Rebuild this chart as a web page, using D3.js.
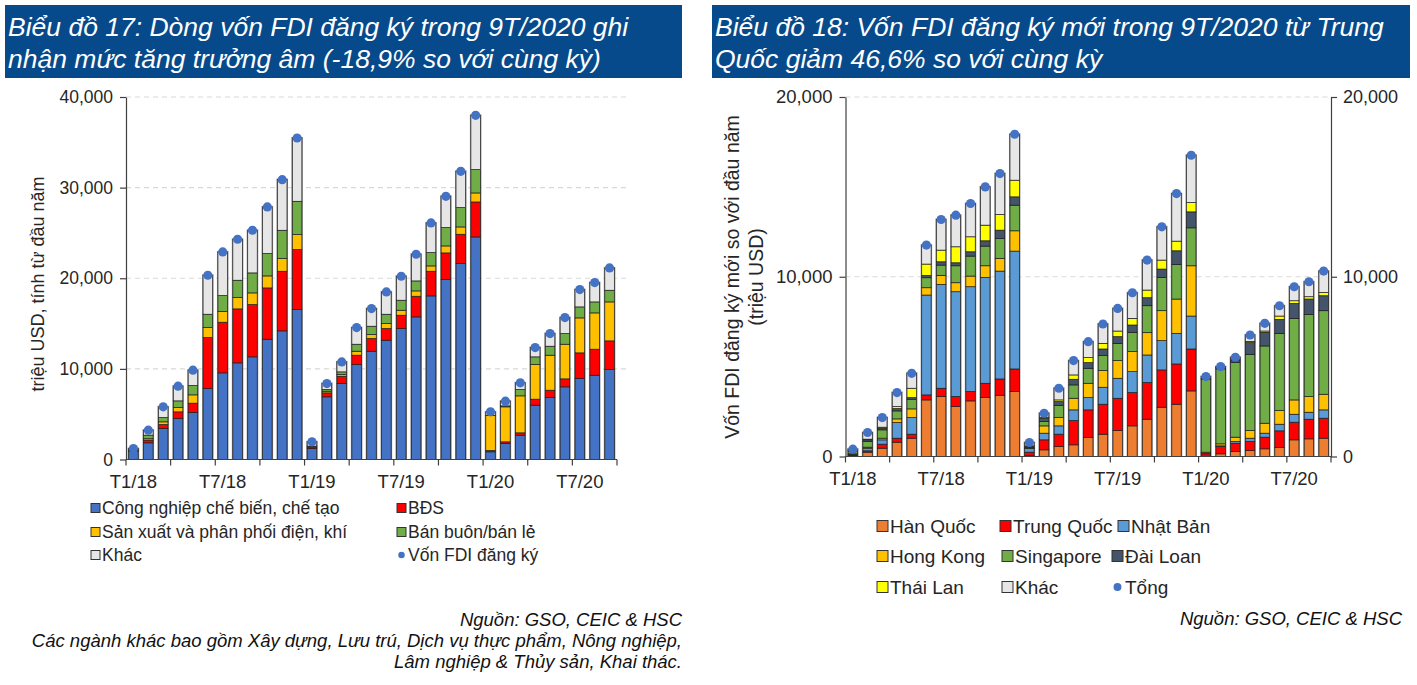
<!DOCTYPE html>
<html><head><meta charset="utf-8">
<script src="https://cdn.jsdelivr.net/npm/d3@7"></script>
<style>
body{margin:0;background:#fff;}
svg{display:block;font-family:"Liberation Sans",Arial,sans-serif;}
</style></head><body>
<svg id="c" width="1417" height="685"></svg>
<script>
// ---------- DATA ----------
const months = ["T1/18","T2/18","T3/18","T4/18","T5/18","T6/18","T7/18","T8/18","T9/18","T10/18","T11/18","T12/18",
  "T1/19","T2/19","T3/19","T4/19","T5/19","T6/19","T7/19","T8/19","T9/19","T10/19","T11/19","T12/19",
  "T1/20","T2/20","T3/20","T4/20","T5/20","T6/20","T7/20","T8/20","T9/20"];
const tickLabels = ["T1/18","T7/18","T1/19","T7/19","T1/20","T7/20"];
const leftYTicks = [0,10000,20000,30000,40000];
const rightYTicks = [0,10000,20000];

// Chart 17 (by sector)
const leftCN = [950,1840,3419,4522,5184,7831,9559,10662,11324,13272,14191,16544, 1213,6912,8382,10478,11949,13162,14449,15735,18051,19853,21618,24559, 846,1765,2684,5993,6838,8015,8934,9301,9926];
const leftBDS = [50,300,441,735,1029,5625,5588,5956,5772,5662,6581,6618, 100,441,809,1029,1397,1287,1471,2279,2721,2941,3235,3860, 150,184,257,662,809,882,2831,2868,3162];
const leftDien = [20,150,294,478,919,1103,1176,1250,1287,1324,1397,1654, 80,184,184,441,441,551,551,588,588,772,809,993, 3860,3860,4081,3824,3860,3824,3860,4007,4301];
const leftBanBuon = [80,400,478,735,1029,1471,1765,1912,2206,2463,3125,3676, 80,184,294,772,919,1029,1103,1103,1471,2022,2132,2574, 30,110,699,846,993,1176,1213,1213,1287];
const leftKhac = [110,545,1176,1618,1691,4301,4816,4522,4706,5147,5588,6985, 478,662,1103,1838,1949,2463,2647,2941,3272,3456,4007,5993, 370,515,735,1029,1397,1765,1912,2132,2463];
const leftTotal = [1210,3235,5808,8088,9852,20331,22904,24302,25295,27868,30882,35477, 1951,8383,10772,14558,16655,18492,20221,22646,26103,29044,31801,37979, 5256,6434,8456,12354,13897,15662,18750,19521,21139];
const leftNames = ["Công nghiệp chế biến, chế tạo","BĐS","Sản xuất và phân phối điện, khí","Bán buôn/bán lẻ","Khác","Vốn FDI đăng ký"];

// Chart 18 (by country)
const rKorea = [50,241,463,796,1019,3148,3333,2778,3093,3278,3407,3611, 40,370,556,648,1056,1241,1444,1704,2074,2741,2907,3648, 80,148,278,333,426,500,926,981,1019];
const rChina = [30,74,222,222,222,278,463,556,519,796,907,1259, 200,556,685,1352,1537,1667,1796,1852,2037,2074,2241,2333, 80,407,463,500,648,926,981,1093,1111];
const rJapan = [50,148,241,870,926,5556,5778,5833,5833,5889,6000,6556, 200,370,463,593,685,944,1111,1167,1537,1630,1704,1833, 20,37,93,185,222,370,444,389,463];
const rHK = [20,56,93,204,481,407,500,500,593,648,704,1130, 20,407,463,648,796,926,981,1111,1241,1667,1907,2796, 60,111,241,426,556,759,796,870,870];
const rSing = [150,315,463,444,537,556,574,944,1111,1093,1111,1426, 30,241,667,741,833,833,963,1074,1500,1852,1926,2111, 4070,4167,4167,4241,4296,4296,4537,4574,4648];
const rTaiwan = [30,93,93,130,93,130,185,167,241,296,463,463, 90,185,222,315,315,370,370,407,444,463,759,889, 20,56,130,648,759,778,833,852,833];
const rThai = [10,37,56,111,519,630,648,889,833,870,870,926, 10,56,93,241,278,315,315,370,426,500,537,519, 20,20,56,74,74,185,148,130,185];
const rOther = [70,370,537,778,833,1056,1704,1759,1852,2130,2278,2556, 190,222,648,796,889,1074,1259,1426,1667,1852,2648,2630, 95,54,93,352,426,574,778,833,1185];
const rTotal = [410,1334,2168,3555,4630,11761,13185,13426,14075,15000,15740,17927, 780,2407,3797,5334,6389,7370,8239,9111,10926,12779,14629,16759, 4445,5000,5521,6759,7407,8388,9443,9722,10314];
const rightNames = ["Hàn Quốc","Trung Quốc","Nhật Bản","Hong Kong","Singapore","Đài Loan","Thái Lan","Khác","Tổng"];

// ---------- DRAW ----------
const svg = d3.select("#c");
const TXT = "#262626", AX = "#404040", GRID = "#D9D9D9", DOT = "#4472C4";

function titleBox(x0, w, lines){
  svg.append("rect").attr("x",x0).attr("y",5).attr("width",w).attr("height",73).attr("fill","#074A8B");
  lines.forEach((t,i)=>svg.append("text").attr("x",x0+3).attr("y",36+i*32)
    .attr("fill","#fff").attr("font-size",26.5).attr("font-style","italic").text(t));
}
titleBox(5,677,["Biểu đồ 17: Dòng vốn FDI đăng ký trong 9T/2020 ghi","nhận mức tăng trưởng âm (-18,9% so với cùng kỳ)"]);
titleBox(712,698,["Biểu đồ 18: Vốn FDI đăng ký mới trong 9T/2020 từ Trung","Quốc giảm 46,6% so với cùng kỳ"]);

function styleAxis(g,fs){
  g.select(".domain").attr("stroke",AX).attr("stroke-width",1.2);
  g.selectAll(".tick line").attr("stroke",AX).attr("stroke-width",1.2);
  g.selectAll(".tick text").attr("font-size",fs).attr("fill",TXT).attr("font-family","Liberation Sans, Arial, sans-serif");
}

function drawStack(cfg){
  const {x0,x1,y0,yTop,ymax,yTicks,series,colors,totals,gridEnd,fs} = cfg;
  const x = d3.scaleBand().domain(months).range([x0,x1]).paddingInner(0.36).paddingOuter(0.18);
  const y = d3.scaleLinear().domain([0,ymax]).range([y0,yTop]);
  const bw = x.bandwidth();
  svg.append("g").selectAll("line").data(yTicks.filter(t=>t>0)).join("line")
    .attr("x1",x0).attr("x2",gridEnd).attr("y1",d=>y(d)).attr("y2",d=>y(d))
    .attr("stroke",GRID).attr("stroke-width",1.2).attr("stroke-dasharray","5,4");
  const keys = series.map((s,i)=>"k"+i);
  const table = months.map((m,i)=>{const o={m}; series.forEach((s,j)=>o["k"+j]=s[i]); return o;});
  const stacked = d3.stack().keys(keys)(table);
  const gb = svg.append("g");
  gb.selectAll("rect.halo").data(months).join("rect").attr("class","halo")
    .attr("x",m=>x(m)-1).attr("width",bw+2)
    .attr("y",(m,i)=>y(totals[i])-1).attr("height",(m,i)=>y(0)-y(totals[i])+1)
    .attr("fill","#8a8a8a");
  stacked.forEach((layer,j)=>{
    gb.append("g").selectAll("rect").data(layer).join("rect")
      .attr("x",d=>x(d.data.m)).attr("width",bw)
      .attr("y",d=>y(d[1])).attr("height",d=>Math.max(0,y(d[0])-y(d[1])))
      .attr("fill",colors[j]).attr("stroke","#1e1e1e").attr("stroke-width",0.7);
  });
  svg.append("g").selectAll("circle").data(months).join("circle")
    .attr("cx",m=>x(m)+bw/2).attr("cy",(m,i)=>y(totals[i])).attr("r",4.6).attr("fill",DOT);
  const ga = svg.append("g").attr("transform",`translate(${x0},0)`)
    .call(d3.axisLeft(y).tickValues(yTicks).tickFormat(d3.format(",")).tickSize(6).tickSizeOuter(0).tickPadding(7));
  styleAxis(ga,fs);
  const step = x.step();
  svg.append("line").attr("x1",x0).attr("x2",x1).attr("y1",y0).attr("y2",y0).attr("stroke",AX).attr("stroke-width",1.2);
  const bnd = d3.range(0,months.length+1,3);
  svg.append("g").selectAll("line").data(bnd).join("line")
    .attr("x1",i=>x0+i*step).attr("x2",i=>x0+i*step).attr("y1",y0).attr("y2",y0+6)
    .attr("stroke",AX).attr("stroke-width",1.2);
  svg.append("g").selectAll("text").data(tickLabels).join("text")
    .attr("x",l=>x(l)+bw/2).attr("y",y0+28).attr("text-anchor","middle")
    .attr("font-size",18.5).attr("fill",TXT).text(l=>l);
  return {x,y};
}

// Left chart
const leftColors = ["#4472C4","#FF0000","#FFC000","#70AD47","#E7E6E6"];
drawStack({x0:126,x1:617,y0:459.5,yTop:97,ymax:40000,yTicks:leftYTicks,fs:17.5,
  series:[leftCN,leftBDS,leftDien,leftBanBuon,leftKhac],colors:leftColors,totals:leftTotal,gridEnd:626});
svg.append("text").attr("transform","translate(44,284) rotate(-90)").attr("text-anchor","middle")
  .attr("font-size",18).attr("fill",TXT).text("triệu USD, tính từ đầu năm");

// Right chart
const rightColors = ["#ED7D31","#FF0000","#5B9BD5","#FFC000","#70AD47","#44546A","#FFFF00","#E7E6E6"];
const R = drawStack({x0:845.5,x1:1331,y0:456.5,yTop:97,ymax:20000,yTicks:rightYTicks,fs:18.5,
  series:[rKorea,rChina,rJapan,rHK,rSing,rTaiwan,rThai,rOther],colors:rightColors,totals:rTotal,gridEnd:1331});
const gr = svg.append("g").attr("transform","translate(1331,0)")
  .call(d3.axisRight(R.y).tickValues(rightYTicks).tickFormat(d3.format(",")).tickSize(6).tickSizeOuter(0).tickPadding(6));
styleAxis(gr,18);
svg.append("text").attr("transform","translate(739,277) rotate(-90)").attr("text-anchor","middle")
  .attr("font-size",19.5).attr("fill",TXT).text("Vốn FDI đăng ký mới so với đầu năm");
svg.append("text").attr("transform","translate(763,277) rotate(-90)").attr("text-anchor","middle")
  .attr("font-size",19.5).attr("fill",TXT).text("(triệu USD)");

// Legends
function legendItem(x,yc,size,color,label,fs,isDot){
  if(isDot){
    svg.append("circle").attr("cx",x+size/2).attr("cy",yc).attr("r",size*0.36).attr("fill",DOT);
  } else {
    svg.append("rect").attr("x",x).attr("y",yc-size/2).attr("width",size).attr("height",size)
      .attr("fill",color).attr("stroke","#333").attr("stroke-width",1);
  }
  svg.append("text").attr("x",x+size+2).attr("y",yc+fs*0.36).attr("font-size",fs).attr("fill",TXT).text(label);
}
const lPos = [[91,508],[397,508],[91,532],[397,532],[91,555],[397,555]];
leftNames.forEach((n,i)=>legendItem(lPos[i][0],lPos[i][1],9,leftColors[i],n,17.5,i===5));
const rPos = [[877,526],[1000,526],[1118,526],[877,556],[1002,556],[1112,556],[877,587],[1002,587],[1112,587]];
rightNames.forEach((n,i)=>legendItem(rPos[i][0],rPos[i][1],11,rightColors[i],n,19,i===8));

// Sources / notes
function note(x,y,t,fs){svg.append("text").attr("x",x).attr("y",y).attr("text-anchor","end")
  .attr("font-size",fs).attr("font-style","italic").attr("fill","#111").text(t);}
note(682,626,"Nguồn: GSO, CEIC & HSC",18.5);
note(682,647,"Các ngành khác bao gồm Xây dựng, Lưu trú, Dịch vụ thực phẩm, Nông nghiệp,",18.5);
note(682,668,"Lâm nghiệp & Thủy sản, Khai thác.",18.5);
note(1402,625,"Nguồn: GSO, CEIC & HSC",18.5);
</script></body></html>
